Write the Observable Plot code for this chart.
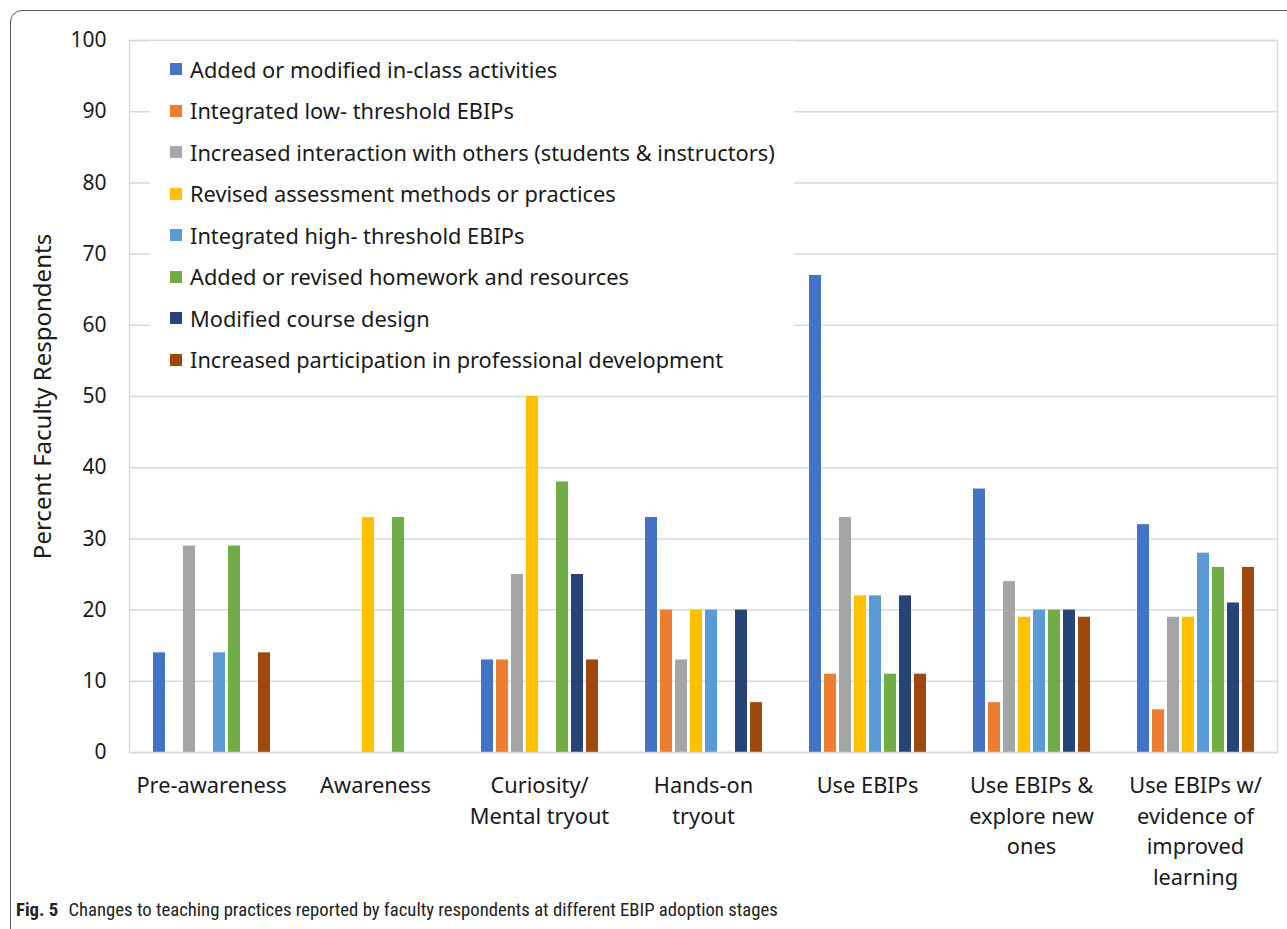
<!DOCTYPE html>
<html>
<head>
<meta charset="utf-8">
<script src="https://cdn.jsdelivr.net/npm/d3@7"></script>
<script src="https://cdn.jsdelivr.net/npm/@observablehq/plot@0.6"></script>
<style>
  body { margin: 0; background: #fff; }
  #wrap { position: relative; width: 1287px; height: 929px; overflow: hidden; background: #fff; font-family: "Noto Sans", "Open Sans", sans-serif; }
  #chart { position: absolute; left: 0; top: 0; }
  #border { position: absolute; left: 10px; top: 10px; width: 1320px; height: 1000px; border: 1.5px solid #5a5a5a; border-radius: 12px; pointer-events: none; }
  #legend { position: absolute; left: 150px; top: 41px; width: 644px; height: 334px; background: #fff; }
  .row { position: absolute; left: 20px; height: 30px; display: flex; align-items: center; font-size: 21.8px; color: #1a1a1a; white-space: nowrap; }
  .sw { width: 12px; height: 12px; margin-right: 8px; }
  #caption { position: absolute; left: 16px; top: 899px; font-family: "Liberation Sans Narrow", "Roboto Condensed", sans-serif; font-size: 18.7px; color: #222; white-space: nowrap; }
  #caption b { font-weight: bold; margin-right: 6px; }
</style>
</head>
<body>
<div id="wrap">
  <div id="chart"></div>
  <div id="legend"></div>
  <div id="caption"><b>Fig. 5</b> Changes to teaching practices reported by faculty respondents at different EBIP adoption stages</div>
  <div id="border"></div>
</div>
<script>
const stages = ["Pre-awareness", "Awareness", "Curiosity/ Mental tryout", "Hands-on tryout", "Use EBIPs", "Use EBIPs & explore new ones", "Use EBIPs w/ evidence of improved learning"];
const stageLabels = ["Pre-awareness", "Awareness", "Curiosity/\nMental tryout", "Hands-on\ntryout", "Use EBIPs", "Use EBIPs &\nexplore new\nones", "Use EBIPs w/\nevidence of\nimproved\nlearning"];
const series = [
  "Added or modified in-class activities",
  "Integrated low- threshold EBIPs",
  "Increased interaction with others (students & instructors)",
  "Revised assessment methods or practices",
  "Integrated high- threshold EBIPs",
  "Added or revised homework and resources",
  "Modified course design",
  "Increased participation in professional development"
];
const colors = ["#4472C4", "#ED7D31", "#A5A5A5", "#FFC000", "#5B9BD5", "#70AD47", "#264478", "#9E480E"];
const inClass      = [14, 0, 13, 33, 67, 37, 32];
const lowThreshold = [0, 0, 13, 20, 11, 7, 6];
const interaction  = [29, 0, 25, 13, 33, 24, 19];
const assessment   = [0, 33, 50, 20, 22, 19, 19];
const highThreshold= [14, 0, 0, 20, 22, 20, 28];
const homework     = [29, 33, 38, 0, 11, 20, 26];
const courseDesign = [0, 0, 25, 20, 22, 20, 21];
const profDev      = [14, 0, 13, 7, 11, 19, 26];
const yTicks = [0, 10, 20, 30, 40, 50, 60, 70, 80, 90, 100];

const valueArrays = [inClass, lowThreshold, interaction, assessment, highThreshold, homework, courseDesign, profDev];
const table = [];
series.forEach((s, i) => stages.forEach((g, j) => {
  if (valueArrays[i][j] > 0) table.push({stage: g, series: s, value: valueArrays[i][j]});
}));
const labelOf = new Map(stages.map((s, i) => [s, stageLabels[i]]));
const font = "'Noto Sans', 'Open Sans', sans-serif";

const chart = Plot.plot({
  width: 1287,
  height: 929,
  marginLeft: 126,
  marginRight: 8,
  marginTop: 40,
  marginBottom: 177,
  style: {fontFamily: font, fontSize: "21px", color: "#1a1a1a", background: "transparent"},
  fx: {domain: stages, padding: 0, axis: null, label: null},
  x: {domain: series, paddingInner: 0.222, paddingOuter: 1.45, axis: null},
  y: {domain: [0, 100], axis: null},
  color: {domain: series, range: colors},
  marks: [
    Plot.gridY(yTicks, {stroke: "#d9d9d9", strokeOpacity: 1, strokeWidth: 1.5}),
    Plot.axisY(yTicks, {tickSize: 0, tickPadding: 23, fontSize: 21, fontFamily: font, label: null}),
    Plot.text(["Percent Faculty Respondents"], {frameAnchor: "left", textAnchor: "middle", dx: -86, rotate: -90, fontSize: 24, fontFamily: font, fill: "#1a1a1a", facet: "super"}),
    Plot.axisFx({anchor: "bottom", tickSize: 0, tickPadding: 19, lineHeight: 1.4, fontSize: 21.8, fontFamily: font, label: null, tickFormat: d => labelOf.get(d)}),
    Plot.barY(table, {fx: "stage", x: "series", y: "value", fill: "series"}),
    Plot.frame({facet: "super", stroke: "#d9d9d9", strokeWidth: 1.5})
  ]
});
document.getElementById("chart").appendChild(chart);

const legend = document.getElementById("legend");
series.forEach((s, i) => {
  const row = document.createElement("div");
  row.className = "row";
  row.style.top = (13 + i * 41.5) + "px";
  const sw = document.createElement("div");
  sw.className = "sw";
  sw.style.background = colors[i];
  const t = document.createElement("span");
  t.textContent = s;
  row.appendChild(sw);
  row.appendChild(t);
  legend.appendChild(row);
});
</script>
</body>
</html>
